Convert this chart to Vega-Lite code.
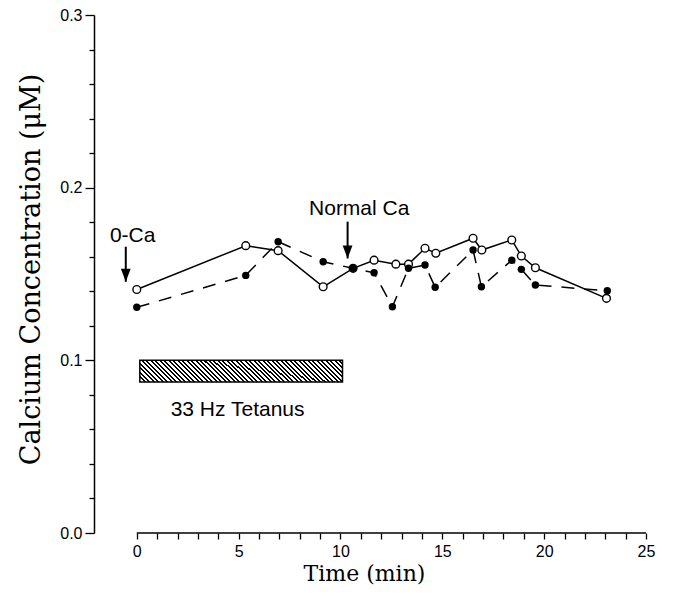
{
  "$schema": "https://vega.github.io/schema/vega-lite/v6.json",
  "width": 552,
  "height": 518,
  "autosize": {"type": "none"},
  "padding": {"left": 94, "top": 15, "right": 27, "bottom": 64},
  "background": "white",
  "config": {"view": {"stroke": null}},
  "datasets": {
    "open": [
      {"t": 0, "c": 0.141}, {"t": 5.35, "c": 0.1664}, {"t": 6.94, "c": 0.1635},
      {"t": 9.15, "c": 0.1426}, {"t": 10.62, "c": 0.1533}, {"t": 11.65, "c": 0.158},
      {"t": 12.72, "c": 0.1557}, {"t": 13.34, "c": 0.1557}, {"t": 14.15, "c": 0.1649},
      {"t": 14.68, "c": 0.162}, {"t": 16.51, "c": 0.1707}, {"t": 16.94, "c": 0.1639},
      {"t": 18.41, "c": 0.1697}, {"t": 18.88, "c": 0.1604}, {"t": 19.57, "c": 0.1536},
      {"t": 23.06, "c": 0.1359}
    ],
    "filled": [
      {"t": 0, "c": 0.1307}, {"t": 5.35, "c": 0.1492}, {"t": 6.94, "c": 0.1687},
      {"t": 9.15, "c": 0.1571}, {"t": 10.62, "c": 0.1533}, {"t": 11.65, "c": 0.1507},
      {"t": 12.55, "c": 0.131}, {"t": 13.34, "c": 0.1533}, {"t": 14.15, "c": 0.1552},
      {"t": 14.65, "c": 0.1423}, {"t": 16.51, "c": 0.1639}, {"t": 16.92, "c": 0.1426},
      {"t": 18.41, "c": 0.158}, {"t": 18.88, "c": 0.1527}, {"t": 19.57, "c": 0.1436},
      {"t": 23.1, "c": 0.1403}
    ],
    "axisline": [{"t": 0, "t2": 25, "c": 0}],
    "arrows": [
      {"t": -0.54, "c": 0.1658, "c2": 0.1455},
      {"t": 10.35, "c": 0.1803, "c2": 0.159}
    ],
    "labels": [
      {"t": -0.2, "c": 0.1687, "label": "0-Ca"},
      {"t": 10.92, "c": 0.1841, "label": "Normal Ca"},
      {"t": 4.95, "c": 0.0677, "label": "33 Hz Tetanus"}
    ],
    "bar": [{"t": 0.15, "t2": 10.1, "c": 0.1, "c2": 0.0875}]
  },
  "encoding": {
    "x": {
      "field": "t", "type": "quantitative",
      "scale": {"domain": [-2.1, 25], "nice": false, "zero": false},
      "axis": {
        "title": "Time (min)",
        "domain": false, "grid": false,
        "values": [0,1,2,3,4,5,6,7,8,9,10,11,12,13,14,15,16,17,18,19,20,21,22,23,24,25],
        "labelExpr": "datum.value % 5 == 0 ? datum.label : ''",
        "labelFont": "Liberation Sans", "labelFontSize": 16, "labelColor": "black",
        "labelPadding": 4, "labelFlush": false,
        "tickColor": "black", "tickWidth": 1.3, "tickSize": 6,
        "titleFont": "DejaVu Serif", "titleFontSize": 22, "titleFontWeight": "normal", "titleColor": "black",
        "titleX": 270, "titleY": 47, "titleBaseline": "alphabetic"
      }
    },
    "y": {
      "field": "c", "type": "quantitative",
      "scale": {"domain": [0, 0.3], "nice": false, "zero": false},
      "axis": {
        "title": "Calcium Concentration (μM)",
        "grid": false,
        "domainColor": "black", "domainWidth": 1.5,
        "values": [0,0.02,0.04,0.06,0.08,0.1,0.12,0.14,0.16,0.18,0.2,0.22,0.24,0.26,0.28,0.3],
        "labelExpr": "abs(round(datum.value*10) - datum.value*10) < 0.001 ? format(datum.value, '.1f') : ''",
        "labelFont": "Liberation Sans", "labelFontSize": 16, "labelColor": "black",
        "labelPadding": 3, "labelFlush": false,
        "tickColor": "black", "tickWidth": 1.3,
        "tickSize": {"condition": {"test": "abs(round(datum.value*10) - datum.value*10) < 0.001", "value": 9}, "value": 5},
        "titleFont": "DejaVu Serif", "titleFontSize": 27, "titleFontWeight": "normal", "titleColor": "black",
        "titleX": -63, "titleY": 254, "titleAngle": -90, "titleAlign": "center", "titleBaseline": "middle"
      }
    }
  },
  "layer": [
    {
      "data": {"name": "axisline"},
      "mark": {"type": "rule", "color": "black", "strokeWidth": 1.5},
      "encoding": {"x2": {"field": "t2"}}
    },
    {
      "data": {"name": "bar"},
      "mark": {
        "type": "rect", "stroke": "black", "strokeWidth": 1.5,
        "fill": {
          "gradient": "linear", "x1": 0, "y1": 1, "x2": 1.095, "y2": 0.882,
          "stops": [
            {"offset":0,"color":"black"},{"offset":0.009,"color":"black"},{"offset":0.009,"color":"white"},{"offset":0.02,"color":"white"},
            {"offset":0.02,"color":"black"},{"offset":0.029,"color":"black"},{"offset":0.029,"color":"white"},{"offset":0.04,"color":"white"},
            {"offset":0.04,"color":"black"},{"offset":0.049,"color":"black"},{"offset":0.049,"color":"white"},{"offset":0.06,"color":"white"},
            {"offset":0.06,"color":"black"},{"offset":0.069,"color":"black"},{"offset":0.069,"color":"white"},{"offset":0.08,"color":"white"},
            {"offset":0.08,"color":"black"},{"offset":0.089,"color":"black"},{"offset":0.089,"color":"white"},{"offset":0.1,"color":"white"},
            {"offset":0.1,"color":"black"},{"offset":0.109,"color":"black"},{"offset":0.109,"color":"white"},{"offset":0.12,"color":"white"},
            {"offset":0.12,"color":"black"},{"offset":0.129,"color":"black"},{"offset":0.129,"color":"white"},{"offset":0.14,"color":"white"},
            {"offset":0.14,"color":"black"},{"offset":0.149,"color":"black"},{"offset":0.149,"color":"white"},{"offset":0.16,"color":"white"},
            {"offset":0.16,"color":"black"},{"offset":0.169,"color":"black"},{"offset":0.169,"color":"white"},{"offset":0.18,"color":"white"},
            {"offset":0.18,"color":"black"},{"offset":0.189,"color":"black"},{"offset":0.189,"color":"white"},{"offset":0.2,"color":"white"},
            {"offset":0.2,"color":"black"},{"offset":0.209,"color":"black"},{"offset":0.209,"color":"white"},{"offset":0.22,"color":"white"},
            {"offset":0.22,"color":"black"},{"offset":0.229,"color":"black"},{"offset":0.229,"color":"white"},{"offset":0.24,"color":"white"},
            {"offset":0.24,"color":"black"},{"offset":0.249,"color":"black"},{"offset":0.249,"color":"white"},{"offset":0.26,"color":"white"},
            {"offset":0.26,"color":"black"},{"offset":0.269,"color":"black"},{"offset":0.269,"color":"white"},{"offset":0.28,"color":"white"},
            {"offset":0.28,"color":"black"},{"offset":0.289,"color":"black"},{"offset":0.289,"color":"white"},{"offset":0.3,"color":"white"},
            {"offset":0.3,"color":"black"},{"offset":0.309,"color":"black"},{"offset":0.309,"color":"white"},{"offset":0.32,"color":"white"},
            {"offset":0.32,"color":"black"},{"offset":0.329,"color":"black"},{"offset":0.329,"color":"white"},{"offset":0.34,"color":"white"},
            {"offset":0.34,"color":"black"},{"offset":0.349,"color":"black"},{"offset":0.349,"color":"white"},{"offset":0.36,"color":"white"},
            {"offset":0.36,"color":"black"},{"offset":0.369,"color":"black"},{"offset":0.369,"color":"white"},{"offset":0.38,"color":"white"},
            {"offset":0.38,"color":"black"},{"offset":0.389,"color":"black"},{"offset":0.389,"color":"white"},{"offset":0.4,"color":"white"},
            {"offset":0.4,"color":"black"},{"offset":0.409,"color":"black"},{"offset":0.409,"color":"white"},{"offset":0.42,"color":"white"},
            {"offset":0.42,"color":"black"},{"offset":0.429,"color":"black"},{"offset":0.429,"color":"white"},{"offset":0.44,"color":"white"},
            {"offset":0.44,"color":"black"},{"offset":0.449,"color":"black"},{"offset":0.449,"color":"white"},{"offset":0.46,"color":"white"},
            {"offset":0.46,"color":"black"},{"offset":0.469,"color":"black"},{"offset":0.469,"color":"white"},{"offset":0.48,"color":"white"},
            {"offset":0.48,"color":"black"},{"offset":0.489,"color":"black"},{"offset":0.489,"color":"white"},{"offset":0.5,"color":"white"},
            {"offset":0.5,"color":"black"},{"offset":0.509,"color":"black"},{"offset":0.509,"color":"white"},{"offset":0.52,"color":"white"},
            {"offset":0.52,"color":"black"},{"offset":0.529,"color":"black"},{"offset":0.529,"color":"white"},{"offset":0.54,"color":"white"},
            {"offset":0.54,"color":"black"},{"offset":0.549,"color":"black"},{"offset":0.549,"color":"white"},{"offset":0.56,"color":"white"},
            {"offset":0.56,"color":"black"},{"offset":0.569,"color":"black"},{"offset":0.569,"color":"white"},{"offset":0.58,"color":"white"},
            {"offset":0.58,"color":"black"},{"offset":0.589,"color":"black"},{"offset":0.589,"color":"white"},{"offset":0.6,"color":"white"},
            {"offset":0.6,"color":"black"},{"offset":0.609,"color":"black"},{"offset":0.609,"color":"white"},{"offset":0.62,"color":"white"},
            {"offset":0.62,"color":"black"},{"offset":0.629,"color":"black"},{"offset":0.629,"color":"white"},{"offset":0.64,"color":"white"},
            {"offset":0.64,"color":"black"},{"offset":0.649,"color":"black"},{"offset":0.649,"color":"white"},{"offset":0.66,"color":"white"},
            {"offset":0.66,"color":"black"},{"offset":0.669,"color":"black"},{"offset":0.669,"color":"white"},{"offset":0.68,"color":"white"},
            {"offset":0.68,"color":"black"},{"offset":0.689,"color":"black"},{"offset":0.689,"color":"white"},{"offset":0.7,"color":"white"},
            {"offset":0.7,"color":"black"},{"offset":0.709,"color":"black"},{"offset":0.709,"color":"white"},{"offset":0.72,"color":"white"},
            {"offset":0.72,"color":"black"},{"offset":0.729,"color":"black"},{"offset":0.729,"color":"white"},{"offset":0.74,"color":"white"},
            {"offset":0.74,"color":"black"},{"offset":0.749,"color":"black"},{"offset":0.749,"color":"white"},{"offset":0.76,"color":"white"},
            {"offset":0.76,"color":"black"},{"offset":0.769,"color":"black"},{"offset":0.769,"color":"white"},{"offset":0.78,"color":"white"},
            {"offset":0.78,"color":"black"},{"offset":0.789,"color":"black"},{"offset":0.789,"color":"white"},{"offset":0.8,"color":"white"},
            {"offset":0.8,"color":"black"},{"offset":0.809,"color":"black"},{"offset":0.809,"color":"white"},{"offset":0.82,"color":"white"},
            {"offset":0.82,"color":"black"},{"offset":0.829,"color":"black"},{"offset":0.829,"color":"white"},{"offset":0.84,"color":"white"},
            {"offset":0.84,"color":"black"},{"offset":0.849,"color":"black"},{"offset":0.849,"color":"white"},{"offset":0.86,"color":"white"},
            {"offset":0.86,"color":"black"},{"offset":0.869,"color":"black"},{"offset":0.869,"color":"white"},{"offset":0.88,"color":"white"},
            {"offset":0.88,"color":"black"},{"offset":0.889,"color":"black"},{"offset":0.889,"color":"white"},{"offset":0.9,"color":"white"},
            {"offset":0.9,"color":"black"},{"offset":0.909,"color":"black"},{"offset":0.909,"color":"white"},{"offset":0.92,"color":"white"},
            {"offset":0.92,"color":"black"},{"offset":0.929,"color":"black"},{"offset":0.929,"color":"white"},{"offset":0.94,"color":"white"},
            {"offset":0.94,"color":"black"},{"offset":0.949,"color":"black"},{"offset":0.949,"color":"white"},{"offset":0.96,"color":"white"},
            {"offset":0.96,"color":"black"},{"offset":0.969,"color":"black"},{"offset":0.969,"color":"white"},{"offset":0.98,"color":"white"},
            {"offset":0.98,"color":"black"},{"offset":0.989,"color":"black"},{"offset":0.989,"color":"white"},{"offset":1,"color":"white"}
          ]
        }
      },
      "encoding": {"x2": {"field": "t2"}, "y2": {"field": "c2"}}
    },
    {
      "data": {"name": "filled"},
      "mark": {"type": "line", "color": "black", "strokeWidth": 1.5, "strokeDash": [13, 10]},
      "encoding": {}
    },
    {
      "data": {"name": "open"},
      "mark": {"type": "line", "color": "black", "strokeWidth": 1.5},
      "encoding": {}
    },
    {
      "data": {"name": "open"},
      "mark": {"type": "point", "shape": "circle", "size": 60, "filled": false, "fill": "white", "fillOpacity": 1, "stroke": "black", "strokeWidth": 1.4, "opacity": 1},
      "encoding": {}
    },
    {
      "data": {"name": "filled"},
      "mark": {"type": "point", "shape": "circle", "size": 55, "filled": true, "color": "black", "opacity": 1},
      "encoding": {}
    },
    {
      "data": {"name": "arrows"},
      "mark": {"type": "rule", "color": "black", "strokeWidth": 2},
      "encoding": {"y2": {"field": "c2"}}
    },
    {
      "data": {"name": "arrows"},
      "mark": {"type": "point", "shape": "M-0.75,-2L0.75,-2L0,0Z", "size": 169, "filled": true, "color": "black", "opacity": 1},
      "encoding": {"y": {"field": "c2", "type": "quantitative"}}
    },
    {
      "data": {"name": "labels"},
      "mark": {"type": "text", "font": "Liberation Sans", "fontSize": 21, "color": "black", "align": "center", "baseline": "alphabetic"},
      "encoding": {"text": {"field": "label"}}
    }
  ]
}
